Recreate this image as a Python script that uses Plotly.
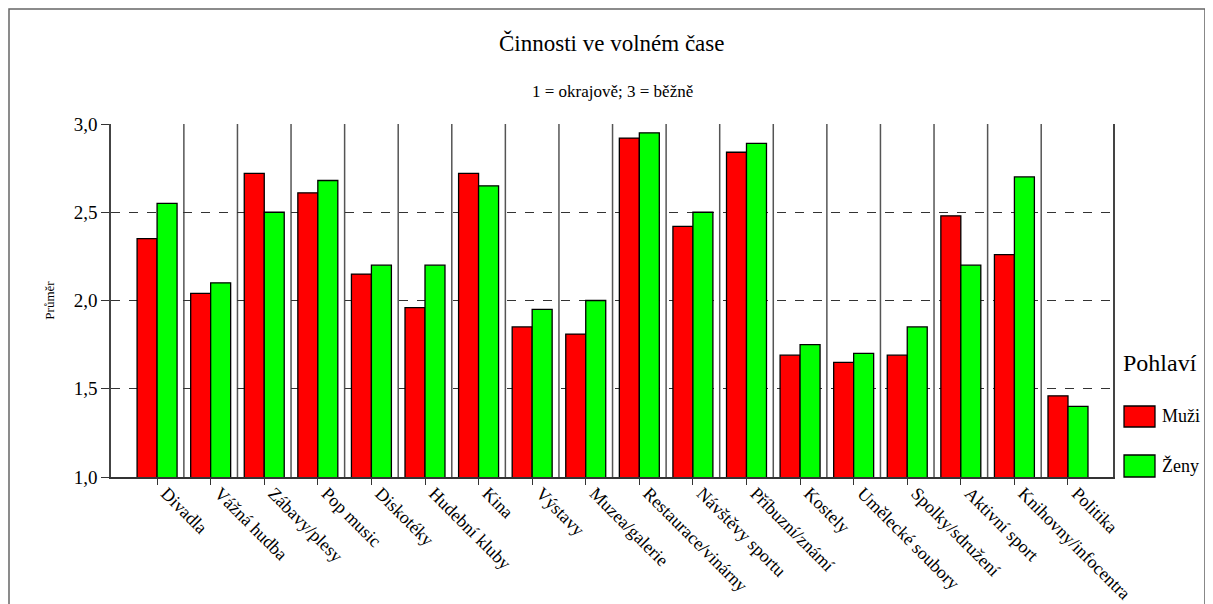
import plotly.graph_objects as go

categories = ["Divadla", "Vážná hudba", "Zábavy/plesy", "Pop music", "Diskotéky",
              "Hudební kluby", "Kina", "Výstavy", "Muzea/galerie", "Restaurace/vinárny",
              "Návštěvy sportu", "Příbuzní/známí", "Kostely", "Umělecké soubory",
              "Spolky/sdružení", "Aktivní sport", "Knihovny/infocentra", "Politika"]
muzi = [2.35, 2.04, 2.72, 2.61, 2.15, 1.96, 2.72, 1.85, 1.81, 2.92,
        2.42, 2.84, 1.69, 1.65, 1.69, 2.48, 2.26, 1.46]
zeny = [2.55, 2.10, 2.50, 2.68, 2.20, 2.20, 2.65, 1.95, 2.00, 2.95,
        2.50, 2.89, 1.75, 1.70, 1.85, 2.20, 2.70, 1.40]
series_names = ["Muži", "Ženy"]
series_colors = ["#FF0000", "#00FF00"]
y_ticks = [1.0, 1.5, 2.0, 2.5, 3.0]

FONT = "Liberation Serif, Times New Roman, serif"

fig = go.Figure()
for name, vals, col in zip(series_names, [muzi, zeny], series_colors):
    fig.add_trace(go.Bar(x=categories, y=vals, name=name,
                         marker=dict(color=col, line=dict(color="#000000", width=1.3))))

shapes = []
for i in range(len(categories) - 1):
    shapes.append(dict(type="line", xref="x", yref="y", x0=i + 0.5, x1=i + 0.5,
                       y0=y_ticks[0], y1=y_ticks[-1], layer="below",
                       line=dict(color="#555555", width=1.5)))
# outer frame of the chart image
shapes.append(dict(type="rect", xref="paper", yref="paper", x0=-0.1018, x1=1.0918,
                   y0=-0.5, y1=1.3258, line=dict(color="#666666", width=1.5)))

# custom legend (swatches + labels)
legend_y = [(0.1416, 0.2011, 0.1728), (0.0, 0.0623, 0.0312)]
annotations = [
    dict(text="Činnosti ve volném čase", xref="paper", yref="paper",
         x=0.5, y=1.229, xanchor="center", yanchor="middle", showarrow=False,
         font=dict(size=23, family=FONT)),
    dict(text="1 = okrajově; 3 = běžně", xref="paper", yref="paper",
         x=0.5, y=1.093, xanchor="center", yanchor="middle", showarrow=False,
         font=dict(size=17, family=FONT)),
    dict(text="Pohlaví", xref="paper", yref="paper",
         x=1.008, y=0.3229, xanchor="left", yanchor="middle", showarrow=False,
         font=dict(size=24, family=FONT)),
]
for name, col, (y0, y1, yt) in zip(series_names, series_colors, legend_y):
    shapes.append(dict(type="rect", xref="paper", yref="paper", x0=1.0110, x1=1.0419,
                       y0=y0, y1=y1, fillcolor=col, line=dict(color="#000000", width=1.3)))
    annotations.append(dict(text=name, xref="paper", yref="paper", x=1.0469, y=yt,
                            xanchor="left", yanchor="middle", showarrow=False,
                            font=dict(size=18, family=FONT)))

fig.update_layout(
    width=1205, height=596,
    margin=dict(l=103, r=100, t=116, b=127, autoexpand=False),
    paper_bgcolor="white", plot_bgcolor="white",
    separators=",.",
    barmode="group", bargap=0.254, bargroupgap=0,
    font=dict(family=FONT, color="#000000"),
    shapes=shapes,
    showlegend=False,
    annotations=annotations,
)

fig.update_xaxes(
    type="category", range=[-0.86, len(categories) - 1 + 0.84],
    tickangle=45, tickfont=dict(size=18, family=FONT),
    ticks="outside", ticklen=6, tickcolor="#333333",
    ticklabelstandoff=-9, ticklabelshift=9,
    showline=True, linecolor="#333333", linewidth=1.5, mirror=False,
    showgrid=False, automargin=False,
)
fig.update_yaxes(
    range=[y_ticks[0], y_ticks[-1]], tickvals=y_ticks, tickformat=".1f",
    tickfont=dict(size=19, family=FONT),
    ticks="outside", ticklen=8, tickcolor="#333333",
    showline=True, linecolor="#444444", linewidth=1.5, mirror=True,
    showgrid=True, gridcolor="#333333", gridwidth=1, griddash="dash",
    zeroline=False, automargin=False,
    title=dict(text="Průměr", font=dict(size=13, family=FONT), standoff=16),
)

fig.write_html("out.html")
